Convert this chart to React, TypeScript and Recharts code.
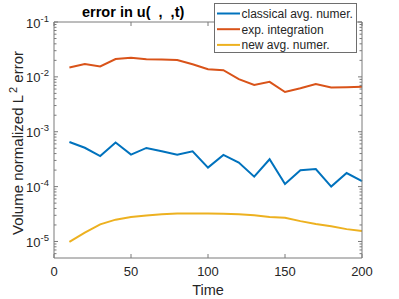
import React from "react";
import { LineChart, Line, XAxis, YAxis } from "recharts";

const times = [10, 20, 30, 40, 50, 60, 70, 80, 90, 100, 110, 120, 130, 140, 150, 160, 170, 180, 190, 200];
const classical = [6.5e-4, 5.1e-4, 3.6e-4, 6.35e-4, 3.83e-4, 5.07e-4, 4.4e-4, 3.83e-4, 4.4e-4, 2.22e-4, 3.78e-4, 2.74e-4, 1.52e-4, 3.15e-4, 1.12e-4, 1.98e-4, 2.09e-4, 1.0e-4, 1.77e-4, 1.26e-4];
const expIntegration = [0.0148, 0.0171, 0.0155, 0.0211, 0.0222, 0.0209, 0.0208, 0.0202, 0.0170, 0.0138, 0.0132, 0.0091, 0.0071, 0.0081, 0.0053, 0.0062, 0.0074, 0.0064, 0.0065, 0.0066];
const newAvg = [9.8e-6, 1.45e-5, 2.05e-5, 2.5e-5, 2.79e-5, 2.99e-5, 3.15e-5, 3.22e-5, 3.25e-5, 3.25e-5, 3.2e-5, 3.13e-5, 3.0e-5, 2.8e-5, 2.7e-5, 2.35e-5, 2.08e-5, 1.9e-5, 1.68e-5, 1.55e-5];

const xTicks = [0, 50, 100, 150, 200];
const yMajorTicks = [1e-5, 1e-4, 1e-3, 1e-2, 1e-1];
const yMinorFactors = [2, 3, 4, 5, 6, 7, 8, 9];

const series = [
  { key: "classical", name: "classical avg. numer.", color: "#0072BD", values: classical },
  { key: "exp", name: "exp. integration", color: "#D95319", values: expIntegration },
  { key: "newavg", name: "new avg. numer.", color: "#EDB120", values: newAvg },
];

const data = times.map((t, i) => {
  const row: Record<string, number> = { t };
  series.forEach((s) => (row[s.key] = s.values[i]));
  return row;
});

const allYTicks: number[] = [];
[-6, -5, -4, -3, -2].forEach((e) => {
  yMinorFactors.forEach((f) => {
    const v = f * Math.pow(10, e);
    if (v >= 5e-6 && v <= 0.1) allYTicks.push(v);
  });
});
yMajorTicks.forEach((v) => allYTicks.push(v));
allYTicks.sort((a, b) => a - b);

const W = 399;
const H = 299;
const PL = 54;
const PR = 362;
const PT = 22;
const PB = 258;
const FONT = "'Liberation Sans', Arial, Helvetica, sans-serif";
const AXIS = "#7a7a7a";
const TEXT = "#262626";

const isMajor = (v: number) => Math.abs(Math.log10(v) - Math.round(Math.log10(v))) < 1e-6;

const LeftTick = (props: any) => {
  const { y, payload } = props;
  const v = payload.value;
  const major = isMajor(v);
  const len = major ? 4 : 2.5;
  const e = Math.round(Math.log10(v));
  return (
    <g>
      <line x1={PL} x2={PL + len} y1={y} y2={y} stroke={AXIS} strokeWidth={1} />
      {major && (
        <text x={PL - 5} y={y + 5.5} textAnchor="end" fontSize={13} fill={TEXT} fontFamily={FONT}>
          10<tspan dy={-6} fontSize={9.5}>{e}</tspan>
        </text>
      )}
    </g>
  );
};

const RightTick = (props: any) => {
  const { y, payload } = props;
  const major = isMajor(payload.value);
  const len = major ? 4 : 2.5;
  return <line x1={PR - len} x2={PR} y1={y} y2={y} stroke={AXIS} strokeWidth={1} />;
};

const BottomTick = (props: any) => {
  const { x, payload } = props;
  return (
    <g>
      <line x1={x} x2={x} y1={PB} y2={PB - 4} stroke={AXIS} strokeWidth={1} />
      <text x={x} y={PB + 18} textAnchor="middle" fontSize={13} fill={TEXT} fontFamily={FONT}>
        {payload.value}
      </text>
    </g>
  );
};

const TopTick = (props: any) => {
  const { x } = props;
  return <line x1={x} x2={x} y1={PT} y2={PT + 4} stroke={AXIS} strokeWidth={1} />;
};

export default function App() {
  return (
    <div style={{ position: "absolute", left: 0, top: 0, width: W, height: H, background: "#fff" }}>
      <LineChart
        width={W}
        height={H}
        data={data}
        margin={{ top: PT - 1, right: W - PR - 1, bottom: 0, left: 0 }}
        style={{ position: "absolute", left: 0, top: 0 }}
      >
        <XAxis
          dataKey="t"
          type="number"
          domain={[0, 200]}
          ticks={xTicks}
          interval={0}
          height={H - PB}
          axisLine={{ stroke: AXIS }}
          tickLine={false}
          tick={(p: any) => <BottomTick {...p} />}
        />
        <XAxis
          xAxisId="top"
          orientation="top"
          dataKey="t"
          type="number"
          domain={[0, 200]}
          ticks={xTicks}
          interval={0}
          height={1}
          axisLine={{ stroke: AXIS }}
          tickLine={false}
          tick={(p: any) => <TopTick {...p} />}
        />
        <YAxis
          type="number"
          scale="log"
          domain={[5e-6, 0.1]}
          allowDataOverflow
          ticks={allYTicks}
          interval={0}
          width={PL}
          axisLine={{ stroke: AXIS }}
          tickLine={false}
          tick={(p: any) => <LeftTick {...p} />}
        />
        <YAxis
          yAxisId="right"
          orientation="right"
          type="number"
          scale="log"
          domain={[5e-6, 0.1]}
          allowDataOverflow
          ticks={allYTicks}
          interval={0}
          width={1}
          axisLine={{ stroke: AXIS }}
          tickLine={false}
          tick={(p: any) => <RightTick {...p} />}
        />
        {series.map((s) => (
          <Line
            key={s.key}
            dataKey={s.key}
            name={s.name}
            type="linear"
            stroke={s.color}
            strokeWidth={2}
            dot={false}
            isAnimationActive={false}
          />
        ))}
      </LineChart>
      <svg
        width={W}
        height={H}
        style={{ position: "absolute", left: 0, top: 0, pointerEvents: "none" }}
        fontFamily={FONT}
      >
        <text x={82} y={17} fontSize={14.5} fontWeight="bold" fill="#000">
          {"error in u(\u00A0\u00A0,\u00A0\u00A0,t)"}
        </text>
        <text
          transform={`translate(22.5, 143) rotate(-90)`}
          textAnchor="middle"
          fontSize={15}
          fill={TEXT}
        >
          Volume normalized L<tspan dx={2} dy={-6} fontSize={11}>2</tspan>
          <tspan dy={6}> error</tspan>
        </text>
        <text x={(PL + PR) / 2} y={295} textAnchor="middle" fontSize={14.5} fill={TEXT}>
          Time
        </text>
        <rect x={214.5} y={3.5} width={142} height={49} fill="#fff" stroke="#6e6e6e" strokeWidth={1} />
        {series.map((s, i) => (
          <g key={s.key}>
            <line x1={217} x2={240} y1={13.5 + i * 15.7} y2={13.5 + i * 15.7} stroke={s.color} strokeWidth={2} />
            <text x={241.5} y={17.8 + i * 15.7} fontSize={12} fill={TEXT}>
              {s.name}
            </text>
          </g>
        ))}
      </svg>
    </div>
  );
}
